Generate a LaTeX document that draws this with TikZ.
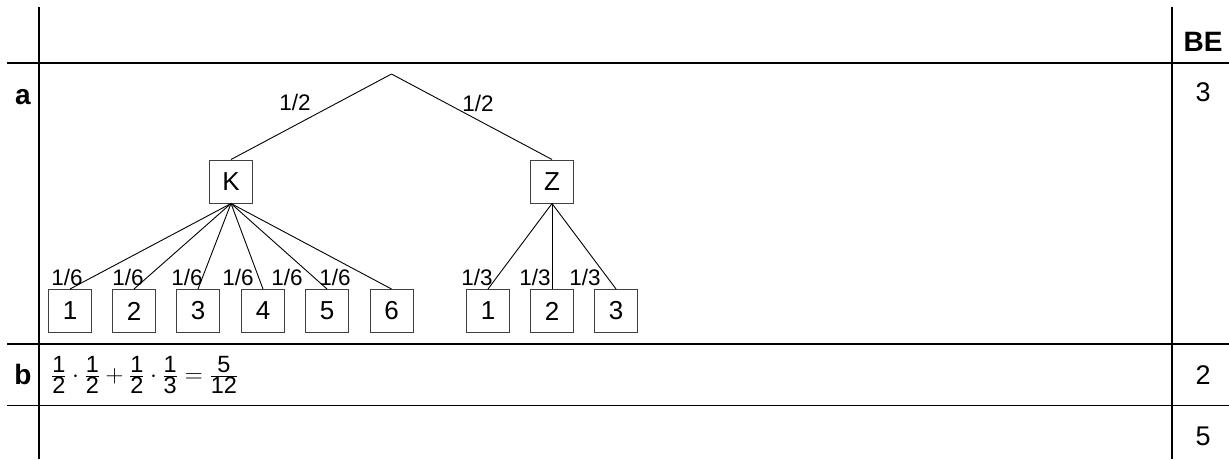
\documentclass[tikz,border=0pt]{standalone}
\usepackage{fontspec}
\setmainfont{Liberation Sans}
\newcommand\myfr[2]{\frac{\mbox{#1}}{\mbox{#2}}}
\begin{document}
\begin{tikzpicture}[x=1pt,y=-1pt,
  tabline/.style={line width=1.5pt,black},
  edge/.style={line width=0.9pt,black},
  leafbox/.style={draw=black!75,line width=1pt,minimum width=43pt,minimum height=43pt,inner sep=0pt,font=\fontsize{26}{28}\selectfont},
  problab/.style={inner sep=0pt,font=\fontsize{22.5}{24}\selectfont},
  rowlab/.style={inner sep=0pt,font=\fontsize{28}{30}\selectfont\bfseries},
  colnum/.style={inner sep=0pt,font=\fontsize{27}{30}\selectfont}]
\useasboundingbox (0,0) rectangle (1229,459);
% table
\draw[tabline] (7,63) -- (1229,63);
\draw[tabline] (7,344) -- (1229,344);
\draw[tabline] (7,405.5) -- (1229,405.5);
\draw[tabline] (39,7) -- (39,459);
\draw[tabline] (1172,7) -- (1172,459);
\node[rowlab] (la) at (23,97) {a};
\node[rowlab] (lb) at (23,374) {b};
\node[rowlab] (be) at (1203,42) {BE};
\node[colnum] (p3) at (1203,92) {3};
\node[colnum] (p2) at (1203,375) {2};
\node[colnum] (p5) at (1203,436) {5};
\node[anchor=west,inner sep=0pt,font=\fontsize{23.5}{26}\selectfont] (sol) at (51,375)
  {$\myfr{1}{2}\cdot\myfr{1}{2}+\myfr{1}{2}\cdot\myfr{1}{3}=\myfr{5}{12}$};
% tree
\coordinate (root) at (391.5,74);
\node[leafbox] (K) at (231,181.5) {K};
\node[leafbox] (Z) at (552,181.5) {Z};
\foreach \i/\x in {1/70,2/134,3/198,4/263,5/327,6/391.5}
  \node[leafbox] (k\i) at (\x,311) {\i};
\foreach \i/\x in {1/488,2/552,3/616}
  \node[leafbox] (z\i) at (\x,311) {\i};
\draw[edge] (root) -- (K.north);
\draw[edge] (root) -- (Z.north);
\foreach \i in {1,...,6} \draw[edge] (K.south) -- (k\i.north);
\foreach \i in {1,2,3} \draw[edge] (Z.south) -- (z\i.north);
\node[problab] (h1) at (295,102) {1/2};
\node[problab] (h2) at (478,103) {1/2};
\foreach \i/\x in {1/67,2/128,3/187,4/238,5/287,6/335}
  \node[problab] (s\i) at (\x,277) {1/6};
\foreach \i/\x in {1/477,2/535,3/585}
  \node[problab] (t\i) at (\x,277) {1/3};
\end{tikzpicture}
\end{document}
